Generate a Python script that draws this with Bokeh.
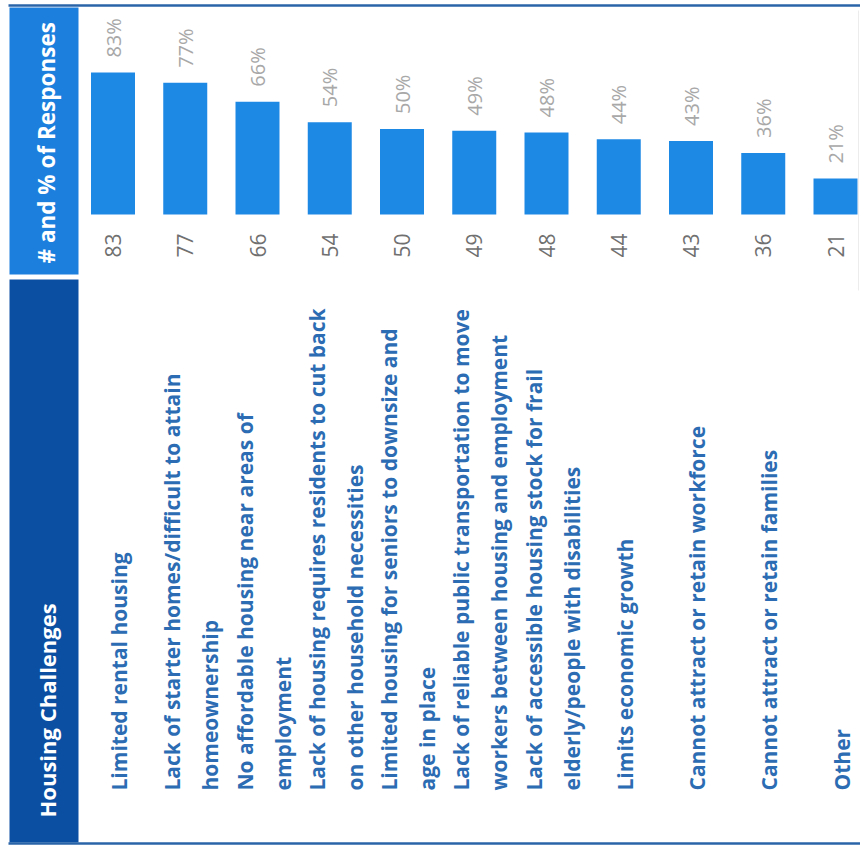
import math
from bokeh.plotting import figure
from bokeh.models import Range1d, ColumnDataSource
from bokeh.core.properties import value
from bokeh.embed import file_html
from bokeh.resources import INLINE

# ---- data ----
categories = [
    "Limited rental housing",
    "Lack of starter homes/difficult to attain homeownership",
    "No affordable housing near areas of employment",
    "Lack of housing requires residents to cut back on other household necessities",
    "Limited housing for seniors to downsize and age in place",
    "Lack of reliable public transportation to move workers between housing and employment",
    "Lack of accessible housing stock for frail elderly/people with disabilities",
    "Limits economic growth",
    "Cannot attract or retain workforce",
    "Cannot attract or retain families",
    "Other",
]
label_line1 = [
    "Limited rental housing",
    "Lack of starter homes/difficult to attain",
    "No affordable housing near areas of",
    "Lack of housing requires residents to cut back",
    "Limited housing for seniors to downsize and",
    "Lack of reliable public transportation to move",
    "Lack of accessible housing stock for frail",
    "Limits economic growth",
    "Cannot attract or retain workforce",
    "Cannot attract or retain families",
    "Other",
]
label_line2 = [
    "",
    "homeownership",
    "employment",
    "on other household necessities",
    "age in place",
    "workers between housing and employment",
    "elderly/people with disabilities",
    "",
    "",
    "",
    "",
]
counts = [83, 77, 66, 54, 50, 49, 48, 44, 43, 36, 21]
percents = [83, 77, 66, 54, 50, 49, 48, 44, 43, 36, 21]
header_top = "# and % of Responses"
header_bottom = "Housing Challenges"

# ---- layout constants (pixels) ----
W, H = 860, 848
col_px = 72.25         # pixels per column
x0_px = 112.5          # centre of first column
unit_px = 1.71         # pixels per response
base_px = 214          # bar baseline

def xd(px):
    return (px - x0_px) / col_px

def yd(py):
    return (base_px - py) / unit_px

idx = list(range(len(categories)))
FONT = value("Open Sans")

p = figure(width=W, height=H, output_backend="svg", toolbar_location=None,
           x_range=Range1d(xd(0), xd(W)), y_range=Range1d(yd(H), yd(0)),
           min_border=0, background_fill_color="white", border_fill_color="white")
p.axis.visible = False
p.grid.visible = False
p.outline_line_color = None

# header column
hx_l, hx_r = xd(9), xd(78)
p.quad(left=[hx_l], right=[hx_r], top=[yd(7)], bottom=[yd(274)], fill_color="#1c7fde", line_color=None)
p.quad(left=[xd(10)], right=[xd(73)], top=[yd(275)], bottom=[yd(279)], fill_color="white", line_color=None)
p.quad(left=[hx_l], right=[hx_r], top=[yd(279)], bottom=[yd(842)], fill_color="#0b4fa3", line_color=None)
p.text(x=[xd(46)], y=[yd(263)], text=[header_top], angle=math.pi / 2,
       text_align="left", text_baseline="middle", text_color="white",
       text_font=FONT, text_font_style="bold", text_font_size="22.5px")
p.text(x=[xd(46.5)], y=[yd(817)], text=[header_bottom], angle=math.pi / 2,
       text_align="left", text_baseline="middle", text_color="white",
       text_font=FONT, text_font_style="bold", text_font_size="22px")

# borders
p.segment(x0=[xd(8)], x1=[xd(W)], y0=[yd(5)], y1=[yd(5)], line_color="#2a64a8", line_width=2.5)
p.segment(x0=[xd(8)], x1=[xd(W)], y0=[yd(843)], y1=[yd(843)], line_color="#2a64a8", line_width=2.5)
p.segment(x0=[xd(858)], x1=[xd(858)], y0=[yd(10)], y1=[yd(290)], line_color="#ececec", line_width=1)

src = ColumnDataSource(dict(
    x=idx, counts=counts,
    pct_y=[c + 15 / unit_px for c in counts],
    pct=[f"{v}%" for v in percents],
    cnt=[str(c) for c in counts],
    cnt_y=[yd(233)] * len(idx),
    l1_x=[i + (6 if not l2 else -13) / col_px for i, l2 in zip(idx, label_line2)],
    l2_x=[i + 25 / col_px for i in idx],
    lab_y=[yd(790)] * len(idx),
    l1=label_line1,
    l2=label_line2,
))

p.vbar(x="x", top="counts", bottom=0, width=44 / col_px, source=src,
       fill_color="#1e88e5", line_color=None)
p.text(x="x", y="pct_y", text="pct", source=src, angle=math.pi / 2,
       text_align="left", text_baseline="middle", text_color="#a8a8a8",
       text_font=FONT, text_font_size="20px")
p.text(x="x", y="cnt_y", text="cnt", source=src, angle=math.pi / 2,
       text_align="right", text_baseline="middle", text_color="#707070",
       text_font=FONT, text_font_size="21px")
for col in ("l1", "l2"):
    p.text(x=f"{col}_x", y="lab_y", text=col, source=src, angle=math.pi / 2,
           text_align="left", text_baseline="middle", text_color="#2b6cb3",
           text_font=FONT, text_font_style="bold", text_font_size="21px")

open("out.html", "w").write(file_html(p, INLINE))
